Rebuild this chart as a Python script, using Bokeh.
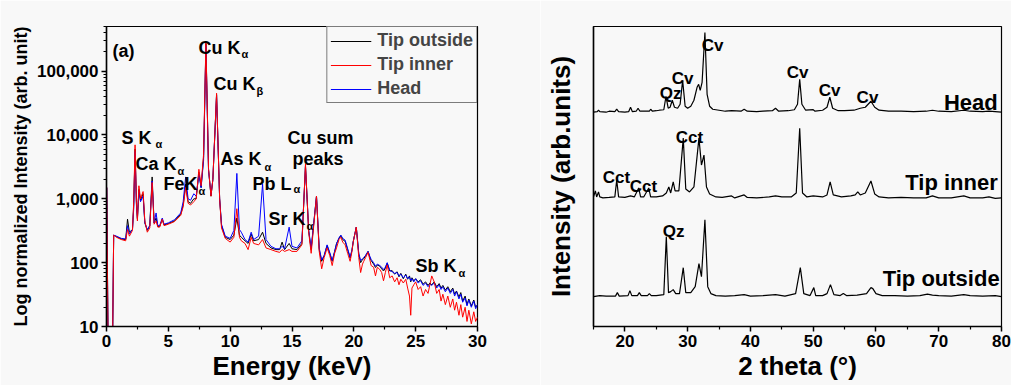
from bokeh.plotting import figure
from bokeh.layouts import row
from bokeh.models import FixedTicker, Range1d, Legend, LegendItem
from bokeh.core.properties import value
from bokeh.embed import file_html
from bokeh.resources import INLINE

FONT = "Liberation Sans"
BG = "#f8f8f8"

# ---------------- (a) XRF spectra ----------------
energy = [0.02, 0.12, 0.50, 0.58, 0.8, 1.2, 1.55, 1.7, 1.85, 2.1, 2.2, 2.31, 2.42, 2.5, 2.62, 2.75, 2.96,
          3.1, 3.3, 3.5, 3.69, 3.85, 4.01, 4.15, 4.3, 4.51, 4.65, 5.0, 5.5, 6.0, 6.2, 6.4, 6.6, 6.8,
          7.06, 7.25, 7.47, 7.65, 7.85, 8.04, 8.25, 8.45, 8.6, 8.9, 9.15, 9.3, 9.6, 10.0, 10.3, 10.54,
          10.75, 10.9, 11.2, 11.45, 11.7, 11.9, 12.3, 12.62, 12.9, 13.3, 13.7, 14.0, 14.2, 14.4, 14.77,
          15.0, 15.4, 15.8, 16.09, 16.35, 16.55, 16.98,
          17.2, 17.4, 17.6, 17.84, 18.05, 18.25, 18.45, 18.6, 18.8, 18.95, 19.1, 19.3, 19.5, 19.7, 19.85,
          19.95, 20.2, 20.4, 20.55, 20.7, 20.8, 20.95, 21.15, 21.3, 21.4, 21.6, 21.75, 21.9, 22.1, 22.25,
          22.4, 22.55, 22.7, 22.9, 23.1, 23.3, 23.5, 23.65, 23.8, 24.0, 24.2, 24.35, 24.5, 24.6, 24.7,
          24.85, 25.0, 25.2, 25.4, 25.6, 25.8, 26.0, 26.15, 26.3, 26.5, 26.7, 26.9, 27.05, 27.2, 27.4,
          27.6, 27.8, 28.0, 28.15, 28.3, 28.5, 28.65, 28.8, 29.0, 29.15, 29.3, 29.5, 29.7, 29.85, 30.0]
tip_inner = [1500, 8, 8, 270, 250, 230, 220, 330, 260, 320, 900, 7000, 900, 450, 1600, 1000, 1300,
             450, 300, 350, 1800, 400, 450, 360, 360, 480, 380, 400, 440, 550, 750, 1500, 850, 800,
             900, 1000, 2900, 1600, 5000, 290000, 3000, 1100, 2000, 45000, 1000, 350, 240, 210, 250, 700,
             250, 220, 200, 160, 250, 200, 190, 230, 170, 160, 150, 145, 160, 150, 160,
             150, 150, 190, 3500, 300, 140, 1100,
             150, 80, 120, 170, 130, 90, 140, 170, 230, 250, 210, 190, 140, 105, 150,
             210, 360, 120, 70, 95, 105, 120, 145, 110, 90, 85, 62, 85, 78, 70,
             52, 70, 92, 58, 62, 50, 58, 45, 55, 48, 55, 40, 30, 15, 40,
             45, 50, 38, 42, 30, 38, 33, 45, 62, 50, 33, 38, 25, 32, 22,
             30, 20, 27, 18, 24, 15, 22, 14, 20, 12, 18, 11, 17, 12, 14]
head = [1500, 8, 8, 270, 260, 240, 235, 380, 280, 330, 700, 5500, 800, 500, 1300, 900, 1100,
        420, 330, 380, 1900, 420, 600, 380, 380, 500, 400, 420, 470, 600, 900, 2200, 1000, 950,
        1200, 1100, 2400, 1500, 4000, 250000, 2800, 1150, 2000, 42000, 1000, 400, 260, 240, 320, 2500,
        330, 300, 230, 210, 300, 230, 260, 1700, 230, 180, 165, 165, 180, 165, 360,
        180, 170, 220, 3200, 320, 170, 1100,
        170, 110, 130, 190, 145, 108, 150, 195, 245, 270, 240, 225, 165, 122, 160,
        215, 360, 140, 108, 115, 120, 130, 150, 125, 112, 100, 88, 95, 90, 85,
        78, 85, 100, 76, 72, 68, 70, 62, 66, 58, 64, 56, 60, 52, 56,
        50, 56, 48, 52, 44, 48, 42, 46, 44, 48, 40, 45, 38, 42, 35,
        40, 33, 38, 30, 35, 27, 32, 24, 28, 21, 26, 20, 25, 19, 22]
tip_outside = [1500, 8, 8, 270, 255, 235, 230, 480, 300, 330, 800, 6000, 850, 480, 1400, 950, 1200,
               420, 320, 380, 2200, 420, 500, 370, 370, 480, 390, 410, 450, 570, 800, 1700, 900, 850,
               1000, 1000, 2600, 1500, 4500, 270000, 2900, 1100, 2000, 43000, 1000, 380, 250, 230, 270, 500,
               270, 250, 220, 200, 280, 220, 230, 300, 200, 170, 160, 160, 210, 160, 200,
               165, 160, 200, 3300, 310, 160, 1100,
               160, 105, 128, 185, 140, 105, 150, 200, 240, 265, 230, 215, 160, 118, 155,
               212, 360, 135, 100, 112, 115, 128, 150, 120, 108, 95, 84, 92, 88, 80,
               74, 82, 98, 74, 75, 66, 72, 60, 68, 56, 66, 55, 62, 50, 58,
               52, 56, 50, 54, 46, 50, 44, 48, 45, 50, 42, 47, 40, 44, 37,
               42, 35, 40, 32, 36, 29, 34, 25, 30, 22, 27, 21, 26, 20, 22]

xrf_ticks = [0, 5, 10, 15, 20, 25, 30]
xrf_minor = [2.5, 7.5, 12.5, 17.5, 22.5, 27.5]
log_ticks = [10, 100, 1000, 10000, 100000]
log_labels = ["10", "100", "1,000", "10,000", "100,000"]
log_minor = [m * d for d in [10, 100, 1000, 10000, 100000] for m in range(2, 10)]

xrf_labels = ["(a)", "Cu K", "Cu K", "S K", "Ca K", "FeK", "As K", "Pb L", "Cu sum", "peaks", "Sr K", "Sb K"]
xrf_label_x = [0.48, 7.44, 8.65, 1.21, 2.34, 4.61, 9.22, 11.80, 14.63, 15.04, 13.10, 24.98]
xrf_label_y = [205000, 228600, 62700, 8980, 3520, 1710, 4220, 1710, 8980, 4220, 487, 89.8]
xrf_subs = ["α", "β", "α", "α", "α", "α", "α", "α", "α"]
xrf_sub_x = [10.91, 12.13, 3.96, 5.74, 7.44, 12.77, 15.12, 16.17, 28.46]
xrf_sub_y = [184700, 48700, 7230, 2740, 1330, 3160, 1430, 379, 69.8]

# ---------------- (b) XRD patterns ----------------
head_tt = [15.0, 15.6, 15.8, 16.0, 17.0, 17.5, 18.4, 18.7, 19.0, 20.0, 20.6, 20.9, 21.2, 21.8, 22.1, 22.4,
           23.0, 23.9, 24.1, 24.4, 25.0, 25.5, 26.2, 26.55, 26.9, 27.2, 27.55, 27.9, 28.4, 28.8, 29.2,
           29.6, 30.0, 30.5, 31.0, 31.5, 31.75, 32.0, 32.3, 32.75, 33.1, 33.5, 34.0, 35.0, 36.0, 37.0,
           38.5, 39.0, 39.5, 41.0, 42.0, 43.5, 44.0, 44.5, 46.0, 47.0, 47.5, 47.85, 48.2, 48.8, 50.0,
           50.3, 51.5, 52.2, 52.65, 53.1, 54.0, 55.0, 56.5, 57.5, 58.3, 59.2, 59.8, 60.5, 62.0, 64.0,
           66.0, 68.0, 69.0, 70.0, 72.0, 74.0, 75.0, 77.0, 78.0, 80.0]
head_int = [0, 0.5, 2, 0.5, 0, 1, 0.5, 3, 0.5, 0, 0.5, 5, 0.5, 1, 4, 1,
            1, 1, 3, 1, 1.5, 2, 2.5, 16, 4, 5, 12, 5, 4, 8, 32,
            6, 4, 6, 12, 25, 28, 22, 30, 80, 18, 6, 3, 2, 1, 1.5,
            1, 3, 1, 0.5, 1, 1.5, 4, 1, 1.5, 2.5, 8, 33, 8, 2, 2.5,
            1, 2, 5, 15, 4, 1.5, 1.5, 2, 4, 5, 11, 5, 2, 1, 1,
            0.5, 1, 2, 1, 0.5, 2, 1, 0.5, 1, 0]
inner_tt = [15.0, 15.3, 15.5, 15.8, 16.0, 16.5, 17.5, 18.4, 18.7, 19.0, 20.0, 20.9, 21.5, 22.2, 22.5, 23.0,
            23.8, 24.1, 25.0, 26.0, 26.6, 27.0, 27.3, 27.7, 28.0, 28.6, 29.3, 29.7, 30.3, 31.0, 31.8,
            32.2, 32.6, 33.0, 33.5, 34.5, 35.5, 37.0, 37.5, 39.0, 39.5, 41.0, 43.0, 44.0, 45.0, 46.5,
            47.3, 47.85, 48.3, 49.0, 50.0, 51.5, 52.2, 52.7, 53.2, 54.5, 56.0, 56.7, 57.1, 57.5, 58.3,
            59.2, 59.8, 60.5, 62.0, 64.0, 66.0, 68.0, 69.0, 70.0, 72.0, 74.0, 75.0, 77.0, 78.0, 79.0, 80.0]
inner_int = [2, 8, 2, 7, 2, 1, 1.5, 2, 19, 2, 1.5, 3, 2, 11, 2, 2,
             11, 2, 2, 3, 6, 12, 6, 17, 8, 8, 61, 10, 7, 12, 61,
             34, 44, 12, 5, 2, 1.5, 3, 1, 4, 1.5, 1, 2, 3, 2, 2,
             6, 71, 6, 2, 3, 2, 4, 17, 4, 2, 3, 4, 7, 4, 6,
             18, 5, 2, 1, 1.5, 1, 1, 3, 1, 1, 3, 1, 1, 2, 0.5, 1]
outside_tt = [15.0, 16.0, 17.0, 18.5, 18.8, 19.1, 20.5, 20.8, 21.1, 22.0, 22.3, 22.6, 23.6, 23.9, 24.2, 25.0,
              26.2, 26.6, 26.95, 27.3, 27.7, 28.1, 28.7, 29.3, 29.7, 30.5, 31.2, 31.8, 32.2, 32.75, 33.2,
              33.7, 34.5, 36.0, 37.5, 39.0, 40.0, 42.0, 44.0, 45.5, 47.2, 47.95, 48.5, 49.5, 50.1, 50.4,
              51.5, 52.2, 52.75, 53.3, 54.3, 54.8, 55.3, 57.0, 58.5, 59.2, 59.5, 60.0, 61.0, 63.0, 65.0,
              67.0, 68.2, 69.0, 70.0, 72.0, 74.0, 75.0, 77.0, 79.0, 80.0]
outside_int = [0, 1, 0.5, 0.5, 4, 0.5, 1, 6, 1, 1, 4, 1, 1, 3, 1, 1,
               2, 60, 4, 5, 7, 3, 3, 29, 4, 4, 10, 33, 20, 77, 10,
               3, 1, 0.5, 1, 2, 0.5, 1, 2, 0.5, 3, 29, 3, 1, 9, 1,
               1, 3, 12, 2, 1, 3, 1, 1.5, 3, 9, 8, 3, 1, 1, 0.5,
               1, 2.5, 1.5, 1, 0.5, 2, 1, 0.5, 1, 0]
xrd_offsets = {"Head": 215, "Tip inner": 128, "Tip outside": 30}

xrd_ticks = [20, 30, 40, 50, 60, 70, 80]
xrd_minor = [15, 25, 35, 45, 55, 65, 75]

xrd_labels = ["Cv", "Cv", "Qz", "Cct", "Cct", "Cct", "Cv", "Cv", "Cv", "Qz"]
xrd_label_x = [33.96, 29.18, 27.27, 30.29, 18.66, 22.97, 47.50, 52.60, 58.65, 27.75]
xrd_label_y = [282, 249, 234, 190, 149, 140, 255, 237, 230, 95]
sample_names = ["Head", "Tip inner", "Tip outside"]
sample_x = [79.4, 79.4, 79.7]
sample_y = [225, 144, 48]


def style_axis(ax, tick_size, label_size):
    ax.axis_line_width = 1.5
    ax.axis_line_color = "black"
    ax.major_tick_line_width = 1.5
    ax.minor_tick_line_width = 1.2
    ax.major_tick_in = 0
    ax.major_tick_out = 5
    ax.minor_tick_in = 0
    ax.minor_tick_out = 3
    ax.major_label_text_font = FONT
    ax.major_label_text_font_style = "bold"
    ax.major_label_text_font_size = tick_size
    ax.major_label_text_color = "black"
    ax.axis_label_text_font = FONT
    ax.axis_label_text_font_style = "bold"
    ax.axis_label_text_font_size = label_size
    ax.axis_label_text_color = "black"
    ax.major_label_standoff = 3
    ax.axis_label_standoff = 1


p1 = figure(width=540, height=385, y_axis_type="log", x_range=Range1d(0, 30), y_range=Range1d(10, 5e5),
            output_backend="svg", toolbar_location=None,
            min_border_left=106, min_border_right=63, min_border_top=26, min_border_bottom=59,
            background_fill_color=BG, border_fill_color=BG)
p1.grid.visible = False
p1.outline_line_color = "black"
p1.outline_line_width = 1.2
p1.xaxis.ticker = FixedTicker(ticks=xrf_ticks, minor_ticks=xrf_minor)
p1.yaxis.ticker = FixedTicker(ticks=log_ticks, minor_ticks=log_minor)
p1.yaxis.major_label_overrides = {t: l for t, l in zip(log_ticks, log_labels)}
style_axis(p1.xaxis[0], "17px", "26px")
style_axis(p1.yaxis[0], "17px", "18px")
p1.yaxis.axis_label_standoff = 3
p1.xaxis.axis_label = "Energy (keV)"
p1.yaxis.axis_label = "Log normalized Intensity (arb. unit)"

r_out = p1.line(energy, tip_outside, line_color="black", line_width=1)
r_head = p1.line(energy, head, line_color="#0000ff", line_width=1)
r_in = p1.line(energy, tip_inner, line_color="#ff0000", line_width=1)

legend = Legend(items=[LegendItem(label="Tip outside", renderers=[r_out]),
                       LegendItem(label="Tip inner", renderers=[r_in]),
                       LegendItem(label="Head", renderers=[r_head])],
                location="top_right", margin=0, padding=3, spacing=3,
                glyph_width=41, glyph_height=20, label_height=20, label_standoff=6,
                label_text_font=FONT, label_text_font_style="bold", label_text_font_size="18px",
                border_line_color="black", border_line_width=1, background_fill_color=BG,
                background_fill_alpha=1)
p1.add_layout(legend)

p1.text(x=xrf_label_x, y=xrf_label_y, text=xrf_labels, text_font=value(FONT), text_font_style="bold",
        text_font_size=value("18px"), text_align="left", text_baseline="alphabetic", text_color="black")
p1.text(x=xrf_sub_x, y=xrf_sub_y, text=xrf_subs, text_font=value(FONT), text_font_style="bold",
        text_font_size=value("11px"), text_align="left", text_baseline="alphabetic", text_color="black")

p2 = figure(width=471, height=385, x_range=Range1d(15, 80), y_range=Range1d(0, 301),
            output_backend="svg", toolbar_location=None,
            min_border_left=53, min_border_right=10, min_border_top=26, min_border_bottom=58,
            background_fill_color=BG, border_fill_color=BG)
p2.grid.visible = False
p2.outline_line_color = "black"
p2.outline_line_width = 1.2
p2.xaxis.ticker = FixedTicker(ticks=xrd_ticks, minor_ticks=xrd_minor)
p2.yaxis.ticker = FixedTicker(ticks=[], minor_ticks=[])
style_axis(p2.xaxis[0], "17px", "26px")
style_axis(p2.yaxis[0], "17px", "26px")
p2.yaxis.axis_label_standoff = 18
p2.xaxis.axis_label = "2 theta (°)"
p2.yaxis.axis_label = "Intensity (arb.units)"

for tt, ii, name in [(head_tt, head_int, "Head"), (inner_tt, inner_int, "Tip inner"),
                     (outside_tt, outside_int, "Tip outside")]:
    off = xrd_offsets[name]
    p2.line(tt, [v + off for v in ii], line_color="black", line_width=1.2)

p2.text(x=xrd_label_x, y=xrd_label_y, text=xrd_labels, text_font=value(FONT), text_font_style="bold",
        text_font_size=value("17px"), text_align="center", text_baseline="alphabetic", text_color="black")
p2.text(x=sample_x, y=sample_y, text=sample_names, text_font=value(FONT), text_font_style="bold",
        text_font_size=value("22px"), text_align="right", text_baseline="alphabetic", text_color="black")

layout = row(p1, p2)
open("out.html", "w").write(file_html(layout, INLINE))
